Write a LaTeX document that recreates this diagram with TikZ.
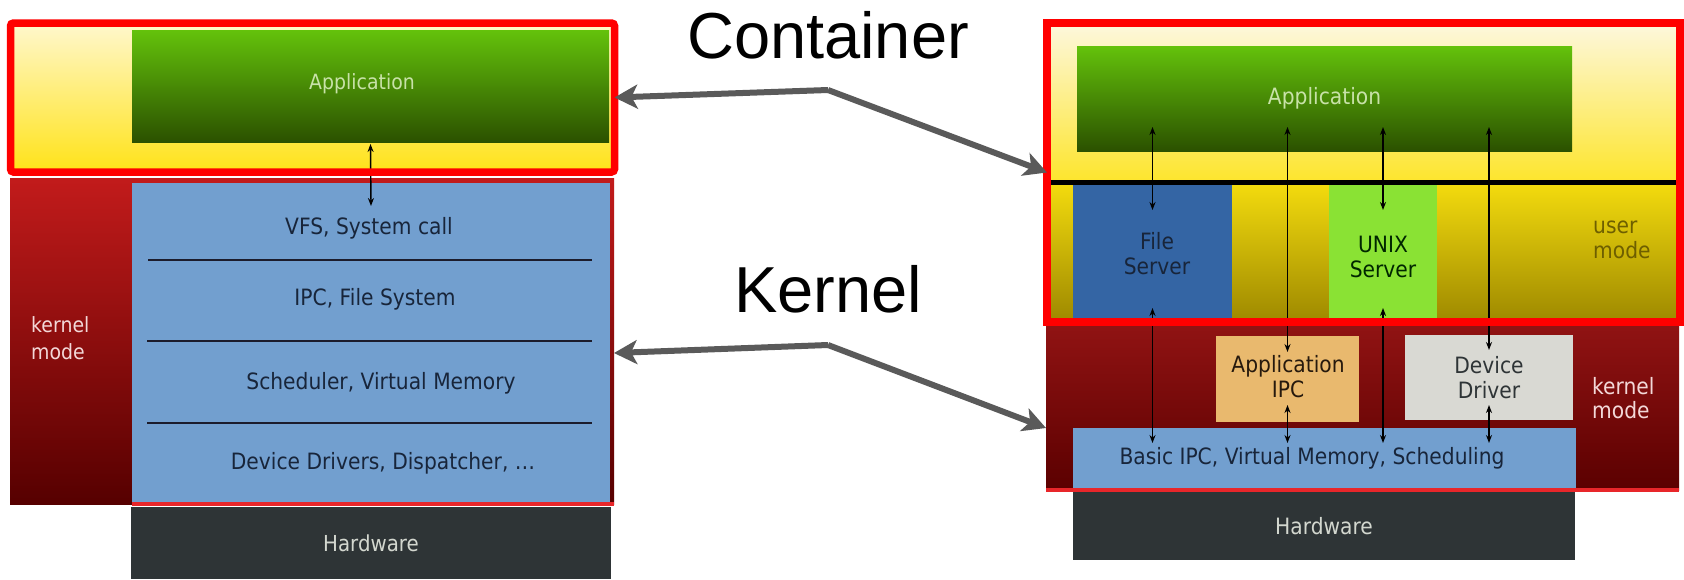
\documentclass[tikz,border=0pt]{standalone}
\usepackage{fontspec}
\setmainfont{DejaVu Sans}[FakeStretch=0.9]
\newfontfamily\bigsans{Liberation Sans}
\usetikzlibrary{arrows.meta,calc}
\definecolor{yelTop}{HTML}{FFF7C8}
\definecolor{yelBot}{HTML}{FFE31D}
\definecolor{ryTop}{HTML}{FDF7D9}
\definecolor{ryBot}{HTML}{FDE52C}
\definecolor{ry2Top}{HTML}{F4DC0E}
\definecolor{ry2Bot}{HTML}{A08B00}
\definecolor{grTop}{HTML}{64C20B}
\definecolor{grBot}{HTML}{2B5100}
\definecolor{krTop}{HTML}{C21B1B}
\definecolor{krBot}{HTML}{560000}
\definecolor{kr2Top}{HTML}{901313}
\definecolor{kr2Bot}{HTML}{5B0000}
\definecolor{skyblue}{HTML}{729FCF}
\definecolor{hwgray}{HTML}{2E3436}
\definecolor{hwtext}{HTML}{D3D7CF}
\definecolor{fsblue}{HTML}{3465A4}
\definecolor{unixgreen}{HTML}{8AE234}
\definecolor{ipcorange}{HTML}{E9B96E}
\definecolor{ddgray}{HTML}{D9D9D3}
\definecolor{navytext}{HTML}{18253A}
\definecolor{apptext}{HTML}{C8E2A8}
\definecolor{kmtext}{HTML}{F3D8D8}
\definecolor{umtext}{HTML}{6E5F00}
\definecolor{arrowgray}{HTML}{5A5A5A}
\definecolor{frame}{HTML}{FF0000}
\definecolor{kline}{HTML}{E8262A}
\definecolor{sepline}{HTML}{1C1C2C}
\begin{document}
\begin{tikzpicture}[x=1pt,y=-1pt,
  box/.style={inner sep=0pt, outer sep=0pt, anchor=north west, align=center},
  ltxt/.style={inner sep=0pt, align=center, font=\fontsize{22.5}{27}\selectfont, text=navytext},
  rtxt/.style={inner sep=0pt, align=center, font=\fontsize{22.5}{25}\selectfont},
  bigt/.style={inner sep=0pt, font=\bigsans\fontsize{65}{70}\selectfont, text=black},
  redframe/.style={draw=frame, line width=8pt},
  bigarrow/.style={draw=arrowgray, line width=6pt, -{Stealth[length=23pt,width=24pt,inset=6pt]}},
  dbl/.style={draw=black, line width=1.4pt, {Stealth[length=8pt,width=6pt]}-{Stealth[length=8pt,width=6pt]}},
  sep/.style={draw=sepline, line width=2pt},
  kbar/.style={draw=kline, line width=4pt}]
\useasboundingbox (0,0) rectangle (1684,579);
\fill[white] (0,0) rectangle (1684,579);

% ---------------- left: monolithic ----------------
\node[box, minimum width=597pt, minimum height=141pt, top color=yelTop, bottom color=yelBot] (lyel) at (14,27) {};
\node[box, minimum width=477pt, minimum height=112pt, top color=grTop, bottom color=grBot] (lapp) at (132,30) {};
\node[rtxt, font=\fontsize{21}{25}\selectfont, text=apptext] (lapptxt) at (362,84) {Application};
\node[box, minimum width=604pt, minimum height=326pt, top color=krTop, bottom color=krBot] (lkern) at (10,178) {};
\node[box, minimum width=478pt, minimum height=319pt, fill=skyblue] (lblue) at (132,183) {};
\draw[sep] (148,259.5) -- (592,259.5);
\draw[sep] (147,340.5) -- (592,340.5);
\draw[sep] (147,422.5) -- (592,422.5);
\node[ltxt] (vfs) at (369,228) {VFS, System call};
\node[ltxt] (ipcfs) at (375,299) {IPC, File System};
\node[ltxt] (sched) at (381,383) {Scheduler, Virtual Memory};
\node[ltxt] (devdr) at (383,463) {Device Drivers, Dispatcher, \dots};
\node[ltxt, font=\fontsize{21}{27}\selectfont, anchor=west, align=left, text=kmtext] (lkm) at (31,338) {kernel\\mode};
\draw[kbar] (lblue.west |- lkern.south) -- (lkern.south east);
\node[box, minimum width=480pt, minimum height=72pt, fill=hwgray, font=\fontsize{22}{25}\selectfont, text=hwtext] (lhw) at (131,507) {Hardware};
\draw[dbl] ($(lapp.south)+(0,2)$) -- ($(lblue.north)+(0,23)$);
\node[box, minimum width=604pt, minimum height=149pt, redframe, line width=7.5pt, rounded corners=3pt] (lcont) at (10.5,23) {};

% ---------------- middle ----------------
\node[bigt, anchor=base] (ctitle) at (828,58) {Container};
\node[bigt, anchor=base] (ktitle) at (828,312) {Kernel};
\coordinate (capex) at (828,90);
\coordinate (kapex) at (828,345);
\draw[bigarrow] (capex) -- (lcont.east);
\draw[bigarrow] (kapex) -- ([yshift=-12pt]lkern.east);

% ---------------- right: microkernel ----------------
\node[box, minimum width=625pt, minimum height=155pt, top color=ryTop, bottom color=ryBot] (ryel1) at (1051,27) {};
\node[box, minimum width=625pt, minimum height=136pt, top color=ry2Top, bottom color=ry2Bot] (ryel2) at (1051,182) {};
\node[box, minimum width=495pt, minimum height=105pt, top color=grTop, bottom color=grBot, rtxt, text=apptext] (rapp) at (1077,46) {Application};
\draw[draw=black, line width=5pt] (ryel1.south west) -- (ryel1.south east);
\node[box, minimum width=159pt, minimum height=135pt, fill=fsblue] (fs) at (1073,185) {};
\node[rtxt, text=navytext] (fstxt) at (1157,254) {File\\Server};
\node[box, minimum width=108pt, minimum height=135pt, fill=unixgreen] (unix) at (1329,185) {};
\node[rtxt, text={black!85!green}] (unixtxt) at (1383,257) {UNIX\\Server};
\node[rtxt, anchor=west, align=left, text=umtext] (um) at (1593,240) {user\\mode};
\node[box, minimum width=633pt, minimum height=164pt, top color=kr2Top, bottom color=kr2Bot] (rkern) at (1046,326) {};
\node[box, minimum width=143pt, minimum height=86pt, fill=ipcorange] (aipc) at (1216,336) {};
\node[rtxt, text={black!80!brown}] (aipctxt) at (1288,376.5) {Application\\IPC};
\node[box, minimum width=168pt, minimum height=85pt, fill=ddgray, rtxt, text=hwgray] (dd) at (1405,335) {Device\\Driver};
\node[box, minimum width=503pt, minimum height=60pt, fill=skyblue] (bipc) at (1073,428) {};
\node[rtxt, text=navytext] (bipctxt) at (1312,458) {Basic IPC, Virtual Memory, Scheduling};
\node[rtxt, anchor=west, align=left, text=kmtext, font=\fontsize{22.5}{24}\selectfont] (rkm) at (1592,398) {kernel\\mode};
\draw[kbar] (rkern.south west) -- (rkern.south east);
\node[box, minimum width=502pt, minimum height=68pt, fill=hwgray, rtxt, text=hwtext] (rhw) at (1073,492) {Hardware};

% arrows
\draw[dbl] ($(fs.center |- rapp.south)+(0,-24)$) -- ($(fs.north)+(0,25)$);
\draw[dbl] ($(fs.center |- ryel2.south)+(0,-10)$) -- ($(fs.center |- bipc.north)+(0,15)$);
\draw[dbl] ($(aipc.center |- rapp.south)+(0,-24)$) -- ($(aipc.north)+(0,16)$);
\draw[dbl] ($(aipc.south)+(0,-17)$) -- ($(aipc.center |- bipc.north)+(0,15)$);
\draw[dbl] ($(unix.center |- rapp.south)+(0,-24)$) -- ($(unix.north)+(0,25)$);
\draw[dbl] ($(unix.center |- ryel2.south)+(0,-10)$) -- ($(unix.center |- bipc.north)+(0,15)$);
\draw[dbl] ($(dd.center |- rapp.south)+(0,-24)$) -- ($(dd.north)+(0,15)$);
\draw[dbl] ($(dd.south)+(0,-15)$) -- ($(dd.center |- bipc.north)+(0,15)$);

\node[box, minimum width=632.5pt, minimum height=299pt, redframe] (rcont) at (1047,23) {};
\draw[bigarrow] (capex) -- (rcont.west);
\draw[bigarrow] (kapex) -- ([yshift=-20pt]rkern.west);
\end{tikzpicture}
\end{document}
